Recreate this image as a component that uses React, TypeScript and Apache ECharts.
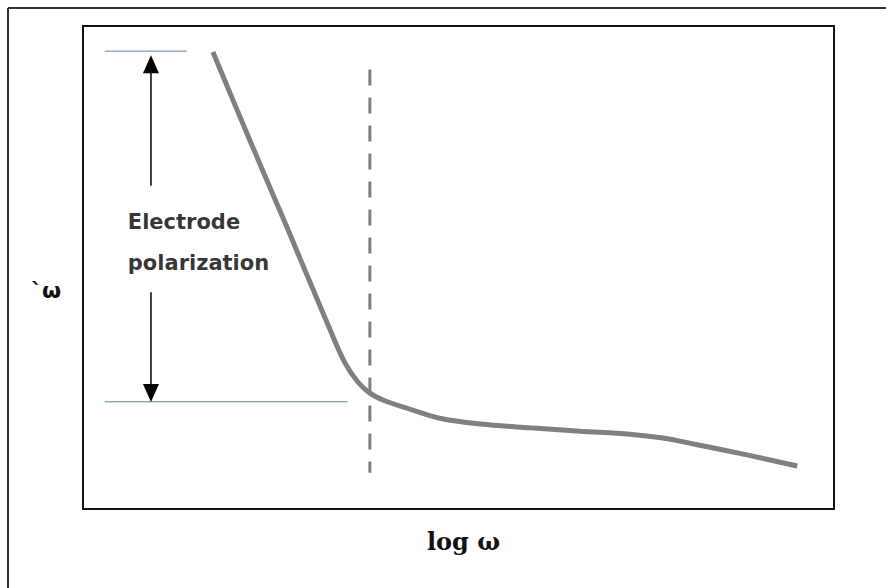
import React, { useEffect, useRef } from "react";
import * as echarts from "echarts";

// Curve (log ω, ε'), axis units 0..100
const curveX = [17.3, 22.2, 27.3, 32.9, 34.9, 36.6, 38.2, 40.2, 43.1, 47.5, 52.9, 59.5, 66.2, 72.8, 77.2, 81.8, 88.4, 95.1];
const curveY = [94.6, 76.4, 57.8, 37.1, 30.2, 26.3, 24.0, 22.4, 20.9, 18.8, 17.6, 16.8, 16.1, 15.5, 14.7, 13.3, 11.2, 8.9];

// dashed vertical marker (drawn top to bottom)
const dashX = 38.2;
const dashY = [91.0, 7.5];

// horizontal reference levels
const topLevelX = [2.9, 13.8];
const topLevel = 94.8;
const bottomLevelX = [2.9, 35.2];
const bottomLevel = 22.2;

// double arrow
const arrowX = 9.05;
const upArrow = [66.9, 92.1];
const downArrow = [44.9, 24.0];

// annotation text
const annotLines = ["Electrode", "polarization"];
const annotX = 5.9;
const annotY = [59.4, 50.9];

const xName = "log ω";
const yName = "`ω";

export default function App() {
  const ref = useRef<HTMLDivElement>(null);
  useEffect(() => {
    document.body.style.margin = "0";
    document.body.style.overflow = "hidden";
    if (!ref.current) return;
    const chart = echarts.init(ref.current, null, { renderer: "svg" });
    const curve = curveX.map((x, i) => [x, curveY[i]]);
    chart.setOption({
      animation: false,
      backgroundColor: "#ffffff",
      grid: {
        left: 83,
        top: 26,
        right: 52,
        bottom: 79,
        show: true,
        borderColor: "#111",
        borderWidth: 2,
        backgroundColor: "#fff",
      },
      xAxis: {
        type: "value",
        min: 0,
        max: 100,
        name: xName,
        nameLocation: "middle",
        nameGap: 20,
        nameTextStyle: { fontFamily: "DejaVu Serif", fontWeight: "bold", fontSize: 24, color: "#111", padding: [0, 0, 0, 10] },
        axisLine: { show: false },
        axisTick: { show: false },
        axisLabel: { show: false },
        splitLine: { show: false },
      },
      yAxis: {
        type: "value",
        min: 0,
        max: 100,
        name: yName,
        nameLocation: "middle",
        nameRotate: 0,
        nameGap: 22,
        nameTextStyle: {
          fontFamily: "DejaVu Sans",
          fontWeight: "bold",
          fontSize: 22,
          color: "#111",
          verticalAlign: "top",
          padding: [12, 0, 0, 0],
        },
        axisLine: { show: false },
        axisTick: { show: false },
        axisLabel: { show: false },
        splitLine: { show: false },
      },
      graphic: [
        {
          type: "line",
          shape: { x1: 8, y1: 8, x2: 886, y2: 8 },
          style: { stroke: "#333", lineWidth: 2 },
          silent: true,
        },
        {
          type: "line",
          shape: { x1: 8, y1: 8, x2: 8, y2: 588 },
          style: { stroke: "#333", lineWidth: 2 },
          silent: true,
        },
      ],
      series: [
        {
          type: "line",
          data: curve,
          smooth: 0.35,
          symbol: "none",
          lineStyle: { color: "#808080", width: 5 },
          z: 3,
        },
        {
          type: "line",
          data: dashY.map((y) => [dashX, y]),
          symbol: "none",
          lineStyle: { color: "#808080", width: 3, type: [16, 12] },
          z: 2,
        },
        {
          type: "line",
          data: topLevelX.map((x) => [x, topLevel]),
          symbol: "none",
          lineStyle: { color: "#5b80a8", width: 1 },
        },
        {
          type: "line",
          data: bottomLevelX.map((x) => [x, bottomLevel]),
          symbol: "none",
          lineStyle: { color: "#5b80a8", width: 1 },
        },
        {
          type: "line",
          data: [
            { value: [arrowX, upArrow[0]], symbol: "none" },
            { value: [arrowX, upArrow[1]], symbol: "triangle", symbolSize: [16, 18] },
          ],
          showSymbol: true,
          itemStyle: { color: "#000" },
          lineStyle: { color: "#000", width: 1.5 },
        },
        {
          type: "line",
          data: [
            { value: [arrowX, downArrow[0]], symbol: "none" },
            { value: [arrowX, downArrow[1]], symbol: "triangle", symbolSize: [16, 18], symbolRotate: 180 },
          ],
          showSymbol: true,
          itemStyle: { color: "#000" },
          lineStyle: { color: "#000", width: 1.5 },
        },
        {
          type: "scatter",
          symbol: "circle",
          symbolSize: 1,
          itemStyle: { color: "rgba(0,0,0,0)" },
          data: annotLines.map((t, i) => ({ value: [annotX, annotY[i]], name: t })),
          label: {
            show: true,
            position: "right",
            distance: 0,
            formatter: (p: any) => p.name,
            fontFamily: "DejaVu Sans",
            fontWeight: "bold",
            fontSize: 21,
            color: "#000",
          },
          z: 5,
        },
      ],
    });
    return () => chart.dispose();
  }, []);
  return (
    <div
      ref={ref}
      style={{ position: "fixed", left: 0, top: 0, width: 886, height: 588, background: "#fff" }}
    />
  );
}
